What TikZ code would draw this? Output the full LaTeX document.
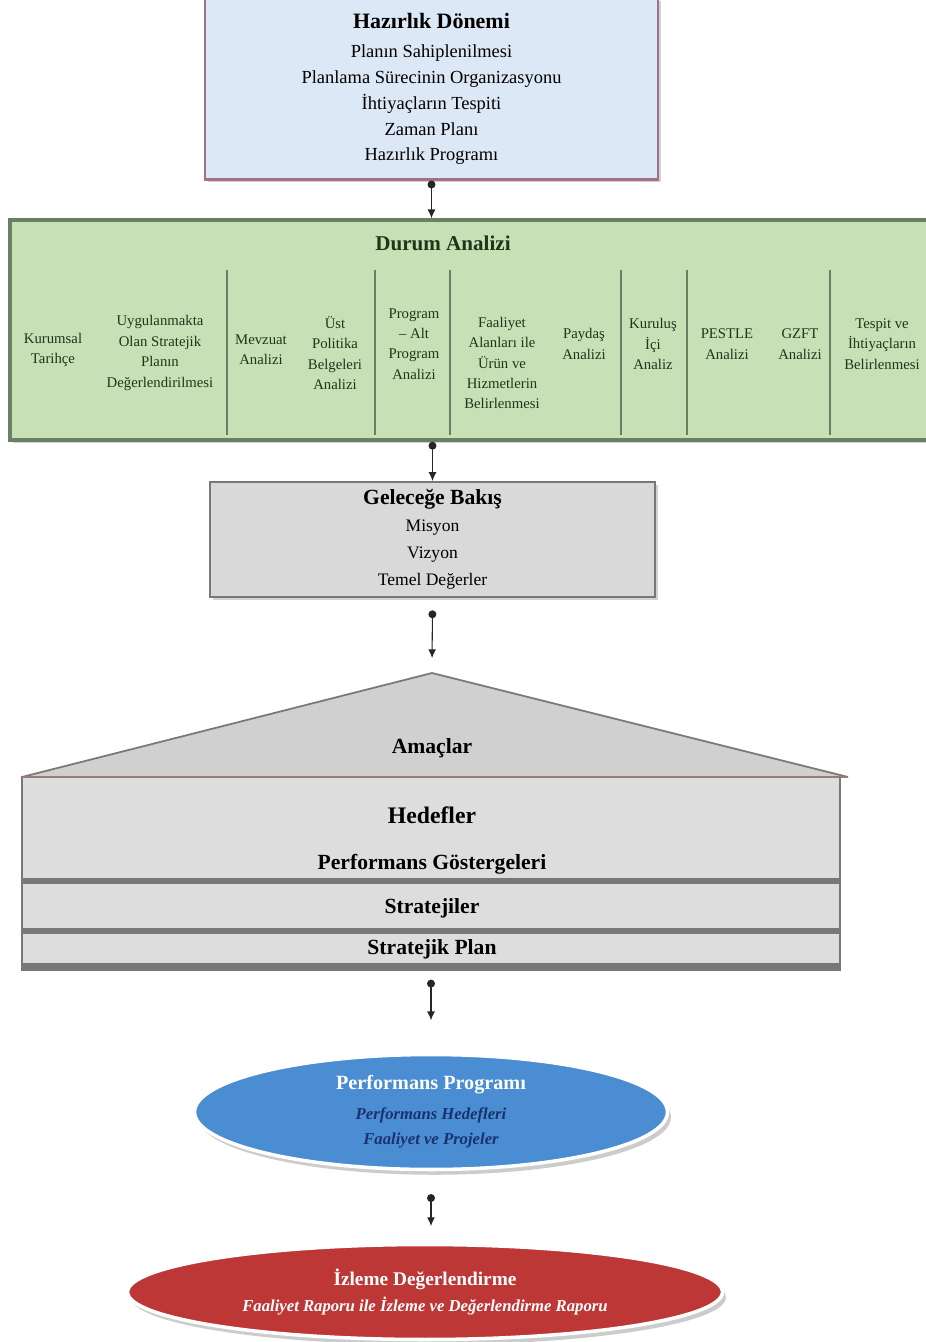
\documentclass[tikz,border=0pt]{standalone}
\usepackage{fontspec}
\setmainfont{Liberation Serif}
\usetikzlibrary{arrows.meta,shapes.geometric,shadows}
\definecolor{prepfill}{RGB}{220,232,245}
\definecolor{prepline}{RGB}{160,112,140}
\definecolor{sitfill}{RGB}{200,224,182}
\definecolor{sitline}{RGB}{105,128,100}
\definecolor{sittext}{RGB}{30,55,25}
\definecolor{grayfill}{RGB}{217,217,217}
\definecolor{grayline}{RGB}{120,120,120}
\definecolor{roofline}{RGB}{150,125,120}
\definecolor{perffill}{RGB}{75,141,210}
\definecolor{perftext}{RGB}{25,50,110}
\definecolor{evalfill}{RGB}{190,55,55}
\tikzset{
	box/.style={rectangle, draw, line width=1.2pt, inner sep=0pt, align=center,
		drop shadow={shadow xshift=1.5pt, shadow yshift=-1.5pt, opacity=0.35}},
	col/.style={align=center, text=sittext, font=\fontsize{8.4}{11.6}\selectfont},
	sep/.style={sitline, line width=1.2pt},
	layer/.style={font=\fontsize{12.3}{14}\selectfont\bfseries},
	band/.style={grayline, line width=3pt},
	oval/.style={ellipse, draw=white, line width=2pt, inner sep=0pt, align=center,
		drop shadow={shadow xshift=2pt, shadow yshift=-3pt, opacity=0.4}},
	link/.style={{Circle[length=4.5pt]}-{Latex[length=5pt,width=4.5pt]}, line width=0.6pt, black!85},
}

\begin{document}
\begin{tikzpicture}[x=0.02cm, y=-0.02cm]
			\useasboundingbox (0,0) rectangle (926,1342);
			\node[box, draw=prepline, fill=prepfill, minimum width=9.06cm, minimum height=3.62cm, font=\fontsize{10.5}{14.7}\selectfont] (prep) at (431.5,89)
				{{\fontsize{12.5}{15}\selectfont\bfseries Hazırlık Dönemi}\\[2pt] Planın Sahiplenilmesi\\ Planlama Sürecinin Organizasyonu\\ İhtiyaçların Tespiti\\ Zaman Planı\\ Hazırlık Programı};
			\node[box, draw=sitline, fill=sitfill, line width=2pt, minimum width=18.6cm, minimum height=4.4cm] (sit) at (475,330) {};
			\node[layer, text=sittext, font=\fontsize{12}{14}\selectfont\bfseries] (sittitle) at (443,243) {Durum Analizi};
			\node[col] (c1) at (53,350) {Kurumsal\\Tarihçe};
			\node[col] (c2) at (160,353) {Uygulanmakta\\Olan Stratejik\\Planın\\Değerlendirilmesi};
			\node[col] (c3) at (261,350) {Mevzuat\\Analizi};
			\node[col] (c4) at (335,353) {Üst\\Politika\\Belgeleri\\Analizi};
			\node[col] (c5) at (414,344) {Program\\– Alt\\Program\\Analizi};
			\node[col] (c6) at (502,363) {Faaliyet\\Alanları ile\\Ürün ve\\Hizmetlerin\\Belirlenmesi};
			\node[col] (c7) at (584,344) {Paydaş\\Analizi};
			\node[col] (c8) at (653,344) {Kuruluş\\İçi\\Analiz};
			\node[col] (c9) at (727,344) {PESTLE\\Analizi};
			\node[col] (c10) at (800,344) {GZFT\\Analizi};
			\node[col] (c11) at (882,344) {Tespit ve\\İhtiyaçların\\Belirlenmesi};
			\foreach \x in {227,375,450,621,687,830}
				\draw[sep] (\x,270) -- (\x,435);
			\node[box, draw=grayline, fill=grayfill, minimum width=8.9cm, minimum height=2.3cm, font=\fontsize{10}{15.3}\selectfont] (vision) at (432.5,539.5)
				{{\fontsize{12.3}{15}\selectfont\bfseries Geleceğe Bakış}\\ Misyon\\ Vizyon\\ Temel Değerler};
			\coordinate (apex) at (432,673);
			\draw[grayline, line width=1pt, line join=bevel, fill=grayfill!96!black] (22,777) -- (apex) -- (848,777) -- cycle;
			\node[rectangle, draw=grayline, line width=1pt, fill=grayfill!90!white, minimum width=16.36cm, minimum height=3.86cm] (plan) at (431,873.5) {};
			\draw[roofline, line width=1.5pt] (22,777) -- (848,777);
			\foreach \y in {881,931,966}
				\draw[band] (23,\y) -- (839,\y);
			\node[layer] (goals) at (432,748) {Amaçlar};
			\node[layer, font=\fontsize{13.5}{15}\selectfont\bfseries] (targets) at (432,815) {Hedefler};
			\node[layer] (indicators) at (432,864) {Performans Göstergeleri};
			\node[layer] (strategies) at (432,908) {Stratejiler};
			\node[layer] (splan) at (432,949) {Stratejik Plan};
			\node[oval, fill=perffill, text=perftext, minimum width=9.46cm, minimum height=2.3cm, font=\fontsize{9.5}{14.7}\selectfont] (perf) at (431,1112)
				{{\fontsize{11.5}{14}\selectfont\bfseries\color{white} Performans Programı}\\[2pt] {\bfseries\itshape Performans Hedefleri}\\ {\bfseries\itshape Faaliyet ve Projeler}};
			\node[oval, fill=evalfill, text=white, minimum width=11.9cm, minimum height=1.9cm, font=\fontsize{9.5}{15.3}\selectfont] (eval) at (425,1292)
				{{\fontsize{11}{14}\selectfont\bfseries İzleme Değerlendirme}\\ {\bfseries\itshape Faaliyet Raporu ile İzleme ve Değerlendirme Raporu}};
			\draw[link] (prep.south) -- (prep.south |- sit.north);
			\draw[link] (vision.north |- sit.south) -- (vision.north);
			\draw[link, shorten <=7pt, shorten >=8.5pt] (vision.south) -- (apex);
			\draw[link, shorten <=5pt, shorten >=18.5pt] (plan.south) -- (perf.north);
			\draw[link, shorten <=13pt, shorten >=9.5pt] (perf.south) -- (perf.south |- eval.north);
		\end{tikzpicture}
\end{document}
